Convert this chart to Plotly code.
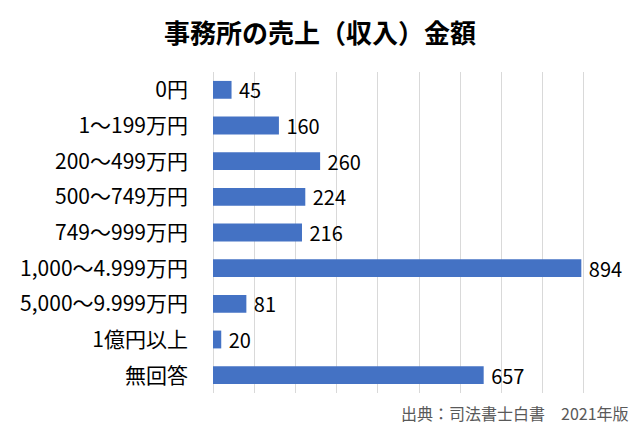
import plotly.graph_objects as go

categories = ["0円", "1～199万円", "200～499万円", "500～749万円", "749～999万円",
              "1,000～4.999万円", "5,000～9.999万円", "1億円以上", "無回答"]
values = [45, 160, 260, 224, 216, 894, 81, 20, 657]

FONT = "Noto Sans CJK JP"

fig = go.Figure(go.Bar(
    x=values, y=categories, orientation="h",
    marker=dict(color="#4472C4", line=dict(width=0)),
    text=["\u00a0" + str(v) for v in values], textposition="outside",
    textfont=dict(family=FONT, size=20, color="#000000"),
    constraintext="none",
    cliponaxis=False,
))

fig.update_layout(
    width=640, height=427,
    margin=dict(l=213, r=15, t=72, b=34),
    paper_bgcolor="white", plot_bgcolor="white",
    bargap=0.5,
    showlegend=False,
    title=dict(text="<b>事務所の売上（収入）金額</b>", x=0.5, xanchor="center",
               y=0.92, yanchor="middle",
               font=dict(family=FONT, size=26, color="#000000")),
    xaxis=dict(range=[0, 1000], dtick=100, showgrid=True, gridcolor="#d9d9d9",
               gridwidth=1, showticklabels=False, zeroline=True, zerolinecolor="#d9d9d9",
               zerolinewidth=1, showline=False, fixedrange=True),
    yaxis=dict(autorange="reversed", showgrid=False, zeroline=False, showline=False,
               ticks="", ticklabelstandoff=24,
               tickfont=dict(family=FONT, size=21, color="#000000")),
    font=dict(family=FONT),
    annotations=[dict(text="出典：司法書士白書　2021年版", xref="paper", yref="paper",
                      x=1.015, y=-0.02, xanchor="right", yanchor="top", showarrow=False,
                      font=dict(family=FONT, size=16, color="#595959"))],
)

fig.write_html("out.html")
